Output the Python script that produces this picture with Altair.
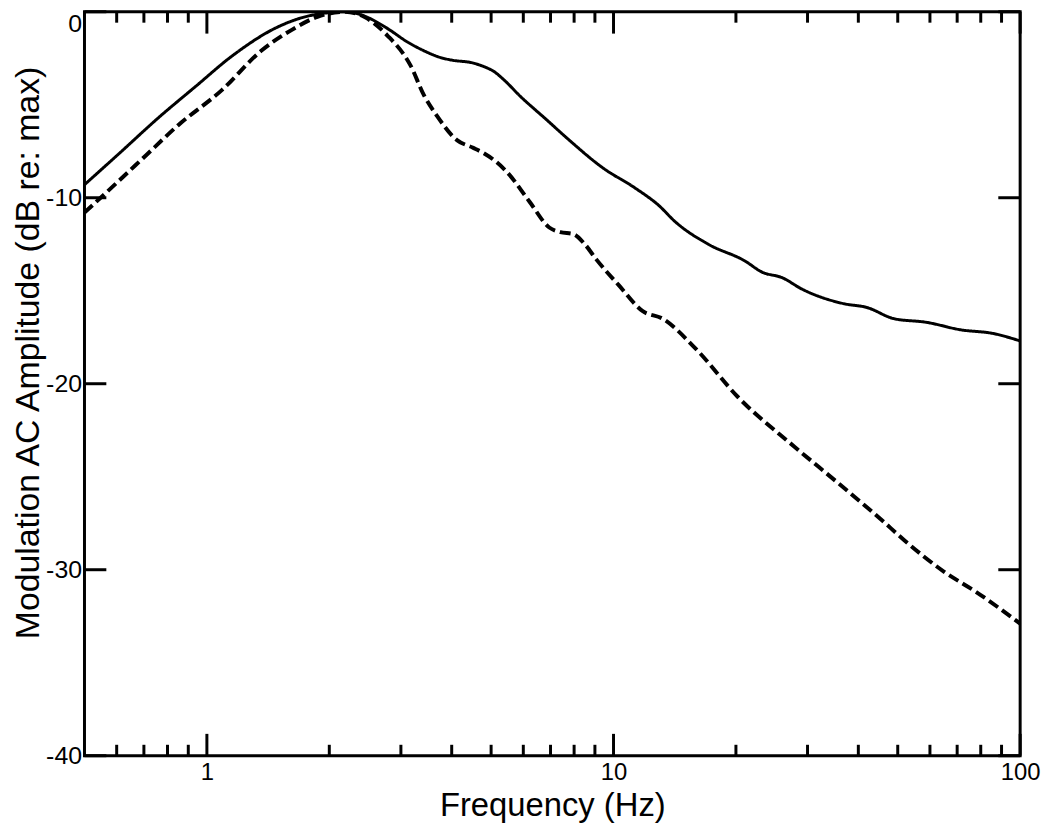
import altair as alt
import pandas as pd

# Solid curve (frequency in Hz, amplitude in dB re: max)
solid_freq = [0.5, 0.61, 0.76, 0.94, 1.15, 1.5, 1.8, 2.2, 2.45, 2.78, 3.1, 3.42, 3.74,
              4.0, 4.5, 4.8, 5.07, 5.4, 5.87, 6.84, 7.78, 9.42, 11.34, 12.9, 14.2, 17.1,
              21.05, 23.2, 26.0, 29.0, 36.9, 42.0, 48.9, 58.9, 71.4, 85.9, 100.0]
solid_db = [-9.3, -7.6, -5.7, -4.0, -2.4, -0.8, -0.2, 0.0, -0.25, -0.9, -1.6, -2.1, -2.45,
            -2.6, -2.75, -2.95, -3.2, -3.7, -4.5, -5.8, -6.9, -8.4, -9.5, -10.4, -11.3, -12.5,
            -13.4, -14.0, -14.3, -14.9, -15.7, -15.9, -16.5, -16.7, -17.1, -17.3, -17.7]

# Dashed curve
dashed_freq = [0.5, 0.6, 0.71, 0.85, 1.09, 1.36, 1.61, 1.87, 2.18, 2.45, 2.78, 3.17, 3.42,
               3.68, 4.12, 4.5, 4.79, 5.1, 5.46, 6.21, 6.95, 7.4, 7.96, 8.5, 9.06, 10.3,
               11.8, 13.2, 15.9, 20.2, 27.9, 35.5, 45.5, 51.8, 64.9, 78.0, 100.0]
dashed_db = [-10.8, -9.2, -7.7, -6.1, -4.2, -2.1, -1.0, -0.27, 0.0, -0.3, -1.28, -2.9, -4.5,
             -5.6, -6.9, -7.3, -7.6, -8.0, -8.6, -10.2, -11.6, -11.85, -11.95, -12.5, -13.3,
             -14.7, -16.1, -16.5, -18.1, -20.7, -23.4, -25.3, -27.3, -28.4, -30.1, -31.2, -32.9]

# Tick values
x_major_ticks = [1, 10, 100]
x_minor_ticks = [0.6, 0.7, 0.8, 0.9, 2, 3, 4, 5, 6, 7, 8, 9, 20, 30, 40, 50, 60, 70, 80, 90]
y_major_ticks = [0, -10, -20, -30, -40]

W, H = 942, 749
MAJ, MIN = 22, 11

df = pd.concat([
    pd.DataFrame({"freq": solid_freq, "db": solid_db, "series": "solid"}),
    pd.DataFrame({"freq": dashed_freq, "db": dashed_db, "series": "dashed"}),
])

xscale = alt.Scale(type="log", domain=[0.5, 100], nice=False)
yscale = alt.Scale(domain=[-40, 0], nice=False)

xaxis = alt.Axis(values=x_major_ticks, format="d", ticks=False, domain=False, grid=False,
                 labelFont="Liberation Sans", labelFontSize=24, labelColor="black",
                 labelPadding=5, labelFlush=False,
                 title="Frequency (Hz)", titleFont="Liberation Sans", titleFontSize=33,
                 titleFontWeight="normal", titleColor="black",
                 titleBaseline="alphabetic", titleY=60)
yaxis = alt.Axis(values=y_major_ticks, labelExpr="'' + datum.value", ticks=False, domain=False,
                 grid=False, labelFont="Liberation Sans", labelFontSize=25, labelColor="black",
                 labelPadding=3, labelFlush=False,
                 labelBaseline=alt.condition("datum.value == 0", alt.value("top"), alt.value("middle")),
                 title="Modulation AC Amplitude (dB re: max)", titleFont="Liberation Sans",
                 titleFontSize=34, titleFontWeight="normal", titleColor="black",
                 titleAngle=-90, titleAlign="center", titleBaseline="alphabetic",
                 titleX=-46, titleY=343)

lines = alt.Chart(df).mark_line(color="black", clip=True, interpolate="monotone").encode(
    x=alt.X("freq:Q", scale=xscale, axis=xaxis),
    y=alt.Y("db:Q", scale=yscale, axis=yaxis),
    strokeDash=alt.StrokeDash("series:N", scale=alt.Scale(domain=["solid", "dashed"],
                                                          range=[[1, 0], [11, 5]]), legend=None),
    strokeWidth=alt.StrokeWidth("series:N", scale=alt.Scale(domain=["solid", "dashed"],
                                                            range=[3, 4]), legend=None),
    detail="series:N",
)

xmaj = pd.DataFrame({"t": x_major_ticks})
xmin = pd.DataFrame({"t": x_minor_ticks})
ymaj = pd.DataFrame({"t": y_major_ticks})

def xticks(data, length):
    bottom = alt.Chart(data).mark_rule(color="black", strokeWidth=3).encode(
        x=alt.X("t:Q", scale=xscale), y=alt.value(H), y2=alt.value(H - length))
    top = alt.Chart(data).mark_rule(color="black", strokeWidth=3).encode(
        x=alt.X("t:Q", scale=xscale), y=alt.value(0), y2=alt.value(length))
    return bottom + top

yleft = alt.Chart(ymaj).mark_rule(color="black", strokeWidth=3).encode(
    y=alt.Y("t:Q", scale=yscale), x=alt.value(0), x2=alt.value(MAJ))
yright = alt.Chart(ymaj).mark_rule(color="black", strokeWidth=3).encode(
    y=alt.Y("t:Q", scale=yscale), x=alt.value(W), x2=alt.value(W - MAJ))

chart = alt.layer(
    lines, xticks(xmaj, MAJ), xticks(xmin, MIN), yleft, yright
).properties(
    width=W, height=H,
    autosize=alt.AutoSizeParams(type="none"),
    padding={"left": 77, "top": 1, "right": 22, "bottom": 70},
    background="white",
).configure_view(
    stroke="black", strokeWidth=3, fill="white"
)

chart.save("out.html", embed_options={"renderer": "svg", "actions": False})
